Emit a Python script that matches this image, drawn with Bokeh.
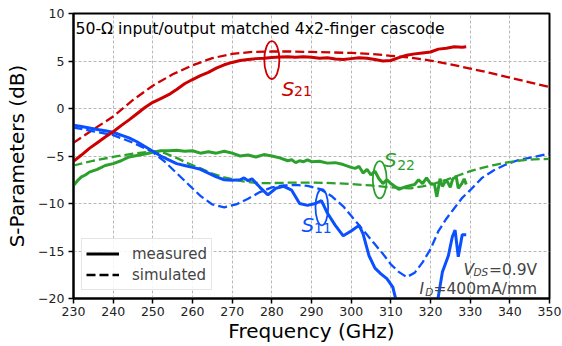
from bokeh.plotting import figure
from bokeh.models import Range1d, FixedTicker, Label, Legend, LegendItem
from bokeh.embed import file_html
from bokeh.resources import INLINE

FONT = "DejaVu Sans"
RED, BLUE, GREEN = "#cc0000", "#0a50ff", "#2ca02c"

# ---------------- data ----------------
s21_meas_f = [230, 232, 234, 236, 238, 240, 242, 244, 246, 248, 250, 252, 254, 256, 258, 260, 262, 264, 266,
              268, 270, 272, 274, 276, 278, 280, 282, 284, 286, 288, 290, 292, 294, 296, 298, 300, 302, 304,
              306, 308, 310, 312, 314, 316, 318, 320, 322, 324, 326, 328, 329]
s21_meas_db = [-5.55, -4.9, -4.2, -3.6, -3.0, -2.45, -1.8, -1.2, -0.55, 0.1, 0.65, 1.05, 1.45, 2.0, 2.6, 3.05,
               3.45, 3.8, 4.25, 4.6, 4.85, 5.05, 5.15, 5.25, 5.3, 5.38, 5.42, 5.45, 5.4, 5.45, 5.4, 5.3, 5.35,
               5.2, 5.15, 5.25, 5.35, 5.3, 5.15, 5.0, 5.05, 5.35, 5.6, 5.75, 5.85, 5.95, 6.25, 6.35, 6.5,
               6.45, 6.5]

s21_sim_f = [230, 235, 240, 245, 250, 255, 260, 265, 270, 275, 280, 285, 290, 295, 300, 305, 310, 315, 320,
             325, 330, 335, 340, 345, 350]
s21_sim_db = [-3.6, -2.2, -0.85, 0.9, 2.4, 3.6, 4.55, 5.3, 5.75, 5.95, 6.0, 6.0, 5.95, 5.9, 5.85, 5.75, 5.55,
              5.35, 5.05, 4.65, 4.2, 3.75, 3.25, 2.75, 2.25]

s11_meas_f = [230, 232, 234, 236, 238, 240, 242, 244, 246, 248, 250, 252, 254, 256, 258, 260, 262, 264, 266,
              268, 270, 272, 273, 274, 275, 277, 279, 281, 283, 285, 287, 289, 291, 292.5, 294, 296, 298, 300,
              302, 303, 304.5, 306, 307.5, 309, 310.5, 311.5, 316, 321.5, 323, 324.5, 325.5, 326.2, 327,
              328, 329]
s11_meas_db = [-1.75, -1.9, -2.05, -2.2, -2.35, -2.5, -2.8, -3.1, -3.5, -4.0, -4.5, -5.0, -5.4, -5.8, -6.0,
               -6.2, -6.4, -6.8, -7.2, -7.5, -7.55, -7.5, -7.3, -7.6, -7.4, -8.3, -9.1, -8.4, -8.2, -8.6,
               -10.0, -10.2, -10.0, -9.7, -11.0, -12.3, -13.4, -12.9, -12.3, -13.2, -15.5, -16.8, -17.4,
               -17.9, -18.8, -20.5, -24.0, -21.0, -17.2, -15.5, -13.5, -12.8, -15.6, -13.3, -13.3]

s11_sim_f = [230, 235, 240, 245, 250, 253, 256, 259, 262, 265, 268, 271, 274, 277, 280, 283, 286, 289, 292,
             295, 298, 300, 302, 304, 306, 308, 310, 312, 314, 316, 318, 320, 322, 324, 326, 328, 330, 333,
             336, 339, 342, 346, 350]
s11_sim_db = [-2.0, -2.4, -2.8, -3.6, -4.6, -5.6, -6.8, -8.0, -9.2, -10.1, -10.4, -10.1, -9.5, -8.8, -8.3,
              -8.1, -8.05, -8.15, -8.45, -9.2, -10.3, -11.3, -12.3, -13.3, -14.3, -15.3, -16.4, -17.2,
              -17.75, -17.3, -16.2, -14.8, -12.9, -11.6, -10.5, -9.4, -8.6, -7.3, -6.5, -5.9, -5.45, -5.1,
              -4.75]

s22_meas_f = [230, 231, 232, 233, 234, 236, 238, 240, 242, 244, 246, 248, 250, 252, 254, 256, 258, 260, 262,
              264, 266, 268, 270, 272, 274, 276, 278, 280, 282, 284, 285, 286, 287, 288, 289, 290, 292, 294,
              296, 298, 300, 301, 302, 303, 304, 305, 306, 307, 308, 309, 310, 312, 314, 316, 317, 318, 319,
              320, 321, 321.6, 322.4, 323, 324, 325, 325.6, 326.5, 327, 327.9, 328.5, 329]
s22_meas_db = [-8.1, -7.6, -7.2, -7.0, -6.7, -6.4, -6.0, -5.8, -5.5, -5.1, -4.95, -4.8, -4.6, -4.45, -4.45,
               -4.4, -4.5, -4.45, -4.7, -4.55, -4.7, -4.5, -4.7, -5.0, -4.9, -5.1, -4.85, -5.0, -5.2, -5.5,
               -5.4, -5.7, -5.5, -5.6, -5.4, -5.6, -5.55, -5.75, -5.7, -5.9, -6.2, -6.3, -6.1, -6.8, -6.4,
               -7.0, -6.6, -7.4, -7.9, -7.5, -7.9, -8.5, -8.2, -8.0, -7.5, -7.9, -7.3, -7.9, -8.0, -9.3,
               -7.4, -8.2, -7.5, -8.3, -7.4, -7.2, -8.4, -7.9, -7.4, -8.0]

s22_sim_f = [230, 235, 240, 245, 250, 253, 256, 259, 262, 265, 268, 271, 274, 277, 280, 285, 290, 295, 300,
             305, 310, 315, 318, 321, 324, 327, 330, 333, 336, 339, 342, 346, 350]
s22_sim_db = [-6.0, -5.5, -5.1, -4.75, -4.5, -4.7, -5.2, -5.8, -6.3, -6.85, -7.25, -7.55, -7.75, -7.85,
              -7.85, -7.8, -7.8, -7.85, -7.95, -8.1, -8.3, -8.4, -8.2, -7.9, -7.5, -7.05, -6.6, -6.25, -5.95,
              -5.7, -5.5, -5.35, -5.3]

x_ticks = [230, 240, 250, 260, 270, 280, 290, 300, 310, 320, 330, 340, 350]
y_ticks = [-20, -15, -10, -5, 0, 5, 10]
y_tick_labels = {-20: "\u221220", -15: "\u221215", -10: "\u221210", -5: "\u22125", 0: "0", 5: "5", 10: "10"}
x_title = "Frequency (GHz)"
y_title = "S-Parameters (dB)"

# ---------------- figure ----------------
p = figure(width=562, height=346, output_backend="svg", toolbar_location=None,
           x_range=Range1d(230, 350), y_range=Range1d(-20, 10),
           min_border_left=73, min_border_right=13, min_border_top=13, min_border_bottom=48)
p.background_fill_color = "white"
p.border_fill_color = "white"
p.outline_line_color = "black"
p.outline_line_width = 2

for ax in (p.xaxis[0], p.yaxis[0]):
    ax.axis_line_width = 2
    ax.axis_line_color = "black"
    ax.major_tick_line_width = 1.5
    ax.major_tick_out = 5
    ax.major_tick_in = 0
    ax.minor_tick_out = 0
    ax.minor_tick_in = 0
    ax.major_label_text_font = FONT
    ax.major_label_text_font_size = "12.5px"
    ax.major_label_text_color = "#222222"
    ax.major_label_standoff = 4
    ax.axis_label_text_font = FONT
    ax.axis_label_text_font_size = "20px"
    ax.axis_label_text_font_style = "normal"
    ax.axis_label_text_color = "black"

p.xaxis.ticker = FixedTicker(ticks=x_ticks)
p.yaxis.ticker = FixedTicker(ticks=y_ticks)
p.yaxis.major_label_overrides = y_tick_labels
p.yaxis.axis_label_standoff = 6
p.yaxis.axis_label = y_title
p.xaxis.axis_label = x_title
p.xaxis.axis_label_standoff = 0
p.xaxis.major_label_standoff = 3

for g in (p.xgrid[0], p.ygrid[0]):
    g.grid_line_color = "#b8b8b8"
    g.grid_line_dash = "3 2"
    g.grid_line_width = 1

DASH = "9 4"
p.line(s21_sim_f, s21_sim_db, line_color=RED, line_width=2.3, line_dash=DASH)
p.line(s11_sim_f, s11_sim_db, line_color=BLUE, line_width=2.3, line_dash=DASH)
p.line(s22_sim_f, s22_sim_db, line_color=GREEN, line_width=2.3, line_dash=DASH)
p.line(s22_meas_f, s22_meas_db, line_color=GREEN, line_width=3)
p.line(s11_meas_f, s11_meas_db, line_color=BLUE, line_width=3)
p.line(s21_meas_f, s21_meas_db, line_color=RED, line_width=3)

# ellipses marking the curves
ell_x = [280.0, 292.6, 307.2]
ell_y = [5.1, -10.4, -7.5]
ell_w = [3.8, 3.2, 3.5]
ell_h = [4.0, 3.8, 3.9]
ell_c = [RED, BLUE, GREEN]
p.ellipse(x=ell_x, y=ell_y, width=ell_w, height=ell_h, fill_alpha=0,
          line_color=ell_c, line_width=1.8)

# curve labels
def add_s(x, y, sub_x, sub_y, sub, color):
    p.add_layout(Label(x=x, y=y, text="S", text_font=FONT, text_font_size="20px",
                       text_font_style="italic", text_color=color, text_baseline="alphabetic"))
    p.add_layout(Label(x=sub_x, y=sub_y, text=sub, text_font=FONT, text_font_size="14px",
                       text_color=color, text_baseline="alphabetic"))

add_s(282.5, 2.08, 285.6, 1.8, "21", RED)
add_s(308.3, -5.44, 311.6, -5.9, "22", GREEN)
add_s(287.5, -12.3, 290.6, -12.6, "11", BLUE)

# title text
p.add_layout(Label(x=230.5, y=8.42, text="50-\u03a9 input/output matched 4x2-finger cascode",
                   text_font=FONT, text_font_size="15.7px", text_color="black",
                   text_baseline="alphabetic"))

# bias conditions
p.add_layout(Label(x=328.3, y=-16.95, text="V", text_font=FONT, text_font_size="15.5px",
                   text_font_style="italic", text_baseline="alphabetic"))
p.add_layout(Label(x=330.85, y=-17.26, text="DS", text_font=FONT, text_font_size="10.5px",
                   text_font_style="italic", text_baseline="alphabetic"))
p.add_layout(Label(x=346.9, y=-16.95, text="=0.9V", text_font=FONT, text_font_size="15.5px",
                   text_align="right", text_baseline="alphabetic"))
p.add_layout(Label(x=317.2, y=-18.95, text="I", text_font=FONT, text_font_size="15.5px",
                   text_font_style="italic", text_baseline="alphabetic"))
p.add_layout(Label(x=318.65, y=-19.28, text="D", text_font=FONT, text_font_size="10.5px",
                   text_font_style="italic", text_baseline="alphabetic"))
p.add_layout(Label(x=346.9, y=-18.95, text="=400mA/mm", text_font=FONT, text_font_size="15.5px",
                   text_align="right", text_baseline="alphabetic"))

# legend (proxy lines placed outside the visible range)
r_meas = p.line(x=[0, 1], y=[100, 100], line_color="black", line_width=3)
r_sim = p.line(x=[0, 1], y=[100, 100], line_color="black", line_width=2.3, line_dash=DASH)
legend = Legend(items=[LegendItem(label="measured", renderers=[r_meas]),
                       LegendItem(label="simulated", renderers=[r_sim])],
                location=(8, 8), padding=4, spacing=0, margin=0,
                label_height=21, glyph_height=21, glyph_width=33, label_standoff=13,
                label_text_font=FONT, label_text_font_size="15px",
                border_line_color="#cccccc", border_line_width=1,
                background_fill_color="white", background_fill_alpha=0.85)
p.add_layout(legend)

open("out.html", "w").write(file_html(p, INLINE))
